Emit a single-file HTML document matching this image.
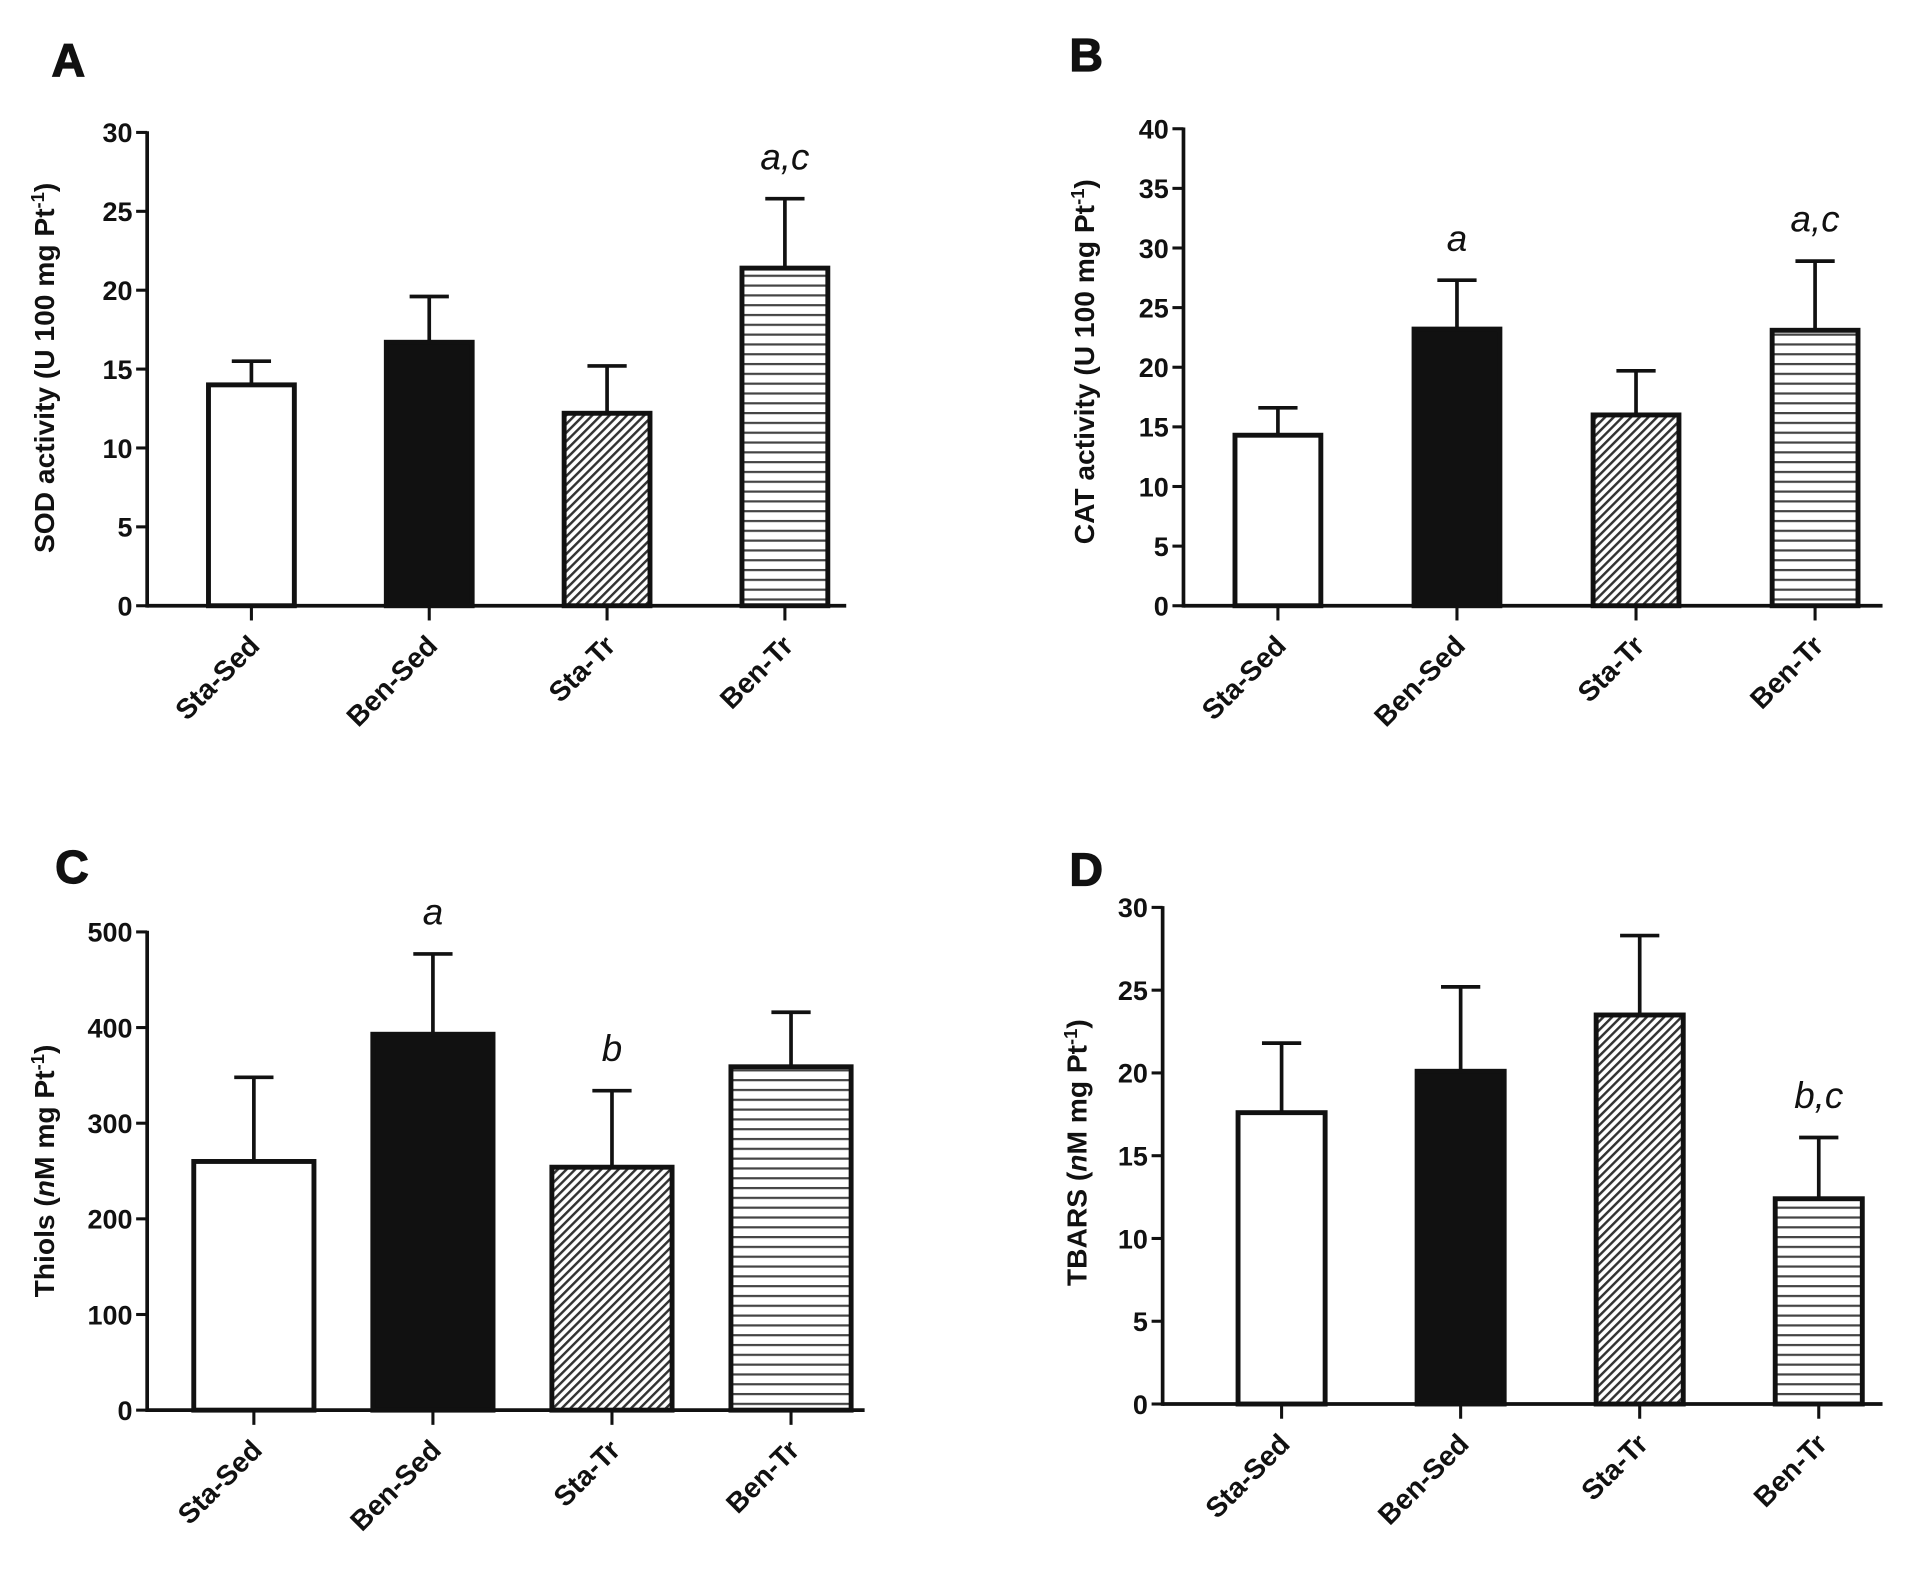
<!DOCTYPE html>
<html><head><meta charset="utf-8"><style>
html,body{margin:0;padding:0;background:#fff;}
svg{display:block;}
text{font-family:"Liberation Sans",Arial,sans-serif;fill:#111;}
</style></head><body>
<svg id="fig" width="1923" height="1572" viewBox="0 0 1568 1282" preserveAspectRatio="none">
<defs>
<pattern id="diag" patternUnits="userSpaceOnUse" width="5" height="5" patternTransform="rotate(45)">
<rect width="5" height="5" fill="#fff"/><rect x="0" y="0" width="2" height="5" fill="#333"/>
</pattern>
<pattern id="horiz" patternUnits="userSpaceOnUse" width="8" height="8">
<rect width="8" height="8" fill="#fff"/><rect x="0" y="0" width="8" height="1.8" fill="#444"/>
</pattern>
</defs>
</svg>
<script>
const categories = ["Sta-Sed","Ben-Sed","Sta-Tr","Ben-Tr"];
const meanA = [14, 16.7, 12.2, 21.4];
const errA  = [15.5, 19.6, 15.2, 25.8];
const sigA  = ["", "", "", "a,c"];
const ticksA = [0,5,10,15,20,25,30];
const meanB = [14.3, 23.2, 16, 23.1];
const errB  = [16.6, 27.3, 19.7, 28.9];
const sigB  = ["", "a", "", "a,c"];
const ticksB = [0,5,10,15,20,25,30,35,40];
const meanC = [260, 393, 254, 359];
const errC  = [348, 477, 334, 416];
const sigC  = ["", "a", "b", ""];
const ticksC = [0,100,200,300,400,500];
const meanD = [17.6, 20.1, 23.5, 12.4];
const errD  = [21.8, 25.2, 28.3, 16.1];
const sigD  = ["", "", "", "b,c"];
const ticksD = [0,5,10,15,20,25,30];

const NS = "http://www.w3.org/2000/svg";
const svg = document.getElementById('fig');
const fills = ["#fff", "#111", "url(#diag)", "url(#horiz)"];
function mk(tag, attrs, parent, txt){
  const e = document.createElementNS(NS, tag);
  for (const k in attrs) e.setAttribute(k, attrs[k]);
  if (txt !== undefined) e.textContent = txt;
  (parent || svg).appendChild(e);
  return e;
}
function panel(p){
  const g = mk('g', {});
  
  
  const maxV = p.ticks[p.ticks.length-1];
  const y = v => p.y0 - (v / maxV) * (p.y0 - p.yTop);
  const lbl = mk('text', {x:p.lx, y:p.ly, 'font-size':38, 'font-weight':'bold', stroke:'#111','stroke-width':1}, g, p.letter);
  
  
  const ya = mk('line', {x1:p.ax, y1:p.yTop-1, x2:p.ax, y2:p.y0+1.5, stroke:'#111','stroke-width':3}, g);
  
  
  p.ticks.forEach(t => {
    mk('line', {x1:p.ax-9, y1:y(t), x2:p.ax, y2:y(t), stroke:'#111','stroke-width':2.5}, g);
    const tl = mk('text', {x:p.ax-12, y:y(t)+8, 'font-size':22, 'font-weight':'bold', 'text-anchor':'end'}, g, t);
    
    
  });
  const xa = mk('line', {x1:p.ax, y1:p.y0, x2:p.xEnd, y2:p.y0, stroke:'#111','stroke-width':3}, g);
  
  
  const yt = mk('text', {transform:`translate(${p.tx},${p.ty}) rotate(-90)`, 'font-size':23, 'font-weight':'bold', 'text-anchor':'middle'}, g);
  
  
  yt.innerHTML = p.title;
  categories.forEach((c, i) => {
    const cx = p.c0 + i * p.step;
    const v = p.mean[i], e = p.err[i];
    mk('line', {x1:cx, y1:y(v), x2:cx, y2:y(e), stroke:'#111','stroke-width':3}, g);
    mk('line', {x1:cx-16, y1:y(e), x2:cx+16, y2:y(e), stroke:'#111','stroke-width':3}, g);
    const b = mk('rect', {x:cx-p.bw/2, y:y(v), width:p.bw, height:p.y0-y(v), fill:fills[i], stroke:'#111','stroke-width':4}, g);
    
    
    mk('line', {x1:cx, y1:p.y0, x2:cx, y2:p.y0+12, stroke:'#111','stroke-width':2.5}, g);
    const xl = mk('text', {transform:`translate(${cx+8},${p.y0+34}) rotate(-45)`, 'font-size':23, 'font-weight':'bold', 'text-anchor':'end'}, g, c);
    
    
    if (p.sig[i]) {
      const s = mk('text', {x:cx, y:y(e)-24, 'font-size':30, 'font-style':'italic', 'text-anchor':'middle'}, g, p.sig[i]);
      
      
    }
  });
}
panel({letter:'A', lx:42, ly:62, ax:120, yTop:108, y0:494, xEnd:690, c0:205, step:145, bw:70, ticks:ticksA, mean:meanA, err:errA, sig:sigA, tx:44, ty:300,
  title:'SOD activity (U 100 mg Pt<tspan dy="-8" font-size="15">-1</tspan><tspan dy="8">)</tspan>'});
panel({letter:'B', lx:872, ly:58, ax:965, yTop:105, y0:494, xEnd:1535, c0:1042, step:146, bw:70, ticks:ticksB, mean:meanB, err:errB, sig:sigB, tx:892, ty:295,
  title:'CAT activity (U 100 mg Pt<tspan dy="-8" font-size="15">-1</tspan><tspan dy="8">)</tspan>'});
panel({letter:'C', lx:45, ly:720, ax:120, yTop:760, y0:1150, xEnd:705, c0:207, step:146, bw:98, ticks:ticksC, mean:meanC, err:errC, sig:sigC, tx:44, ty:955,
  title:'Thiols (<tspan font-style="italic">n</tspan>M mg Pt<tspan dy="-8" font-size="15">-1</tspan><tspan dy="8">)</tspan>'});
panel({letter:'D', lx:872, ly:722, ax:948, yTop:740, y0:1145, xEnd:1535, c0:1045, step:146, bw:71, ticks:ticksD, mean:meanD, err:errD, sig:sigD, tx:886, ty:940,
  title:'TBARS (<tspan font-style="italic">n</tspan>M mg Pt<tspan dy="-8" font-size="15">-1</tspan><tspan dy="8">)</tspan>'});
</script>
</body></html>
